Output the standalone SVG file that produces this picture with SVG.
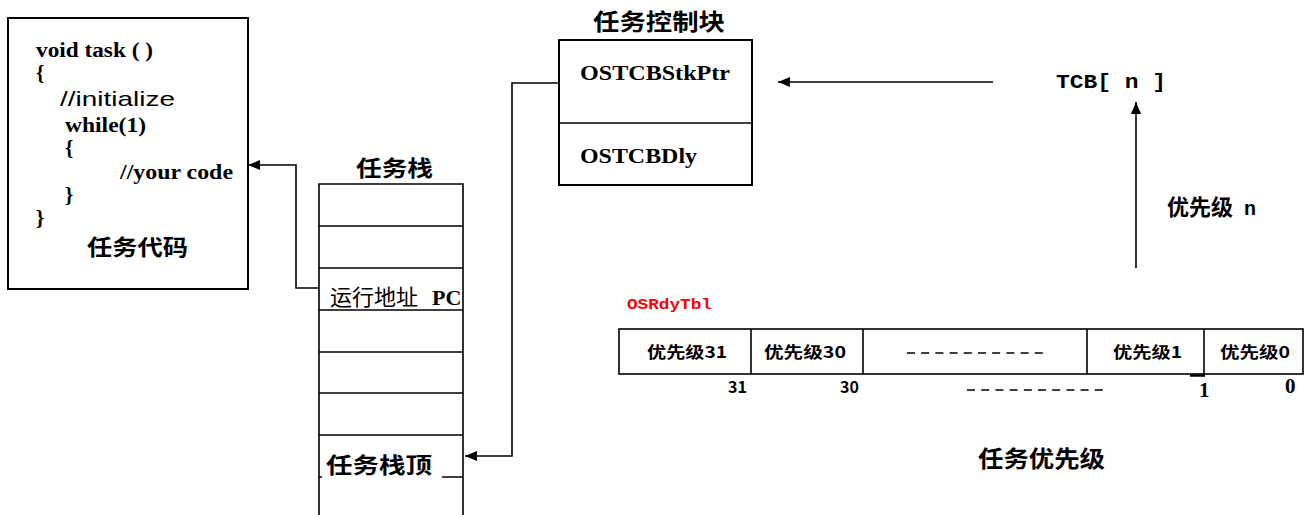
<svg xmlns="http://www.w3.org/2000/svg" width="1311" height="515" viewBox="0 0 1311 515">
<style>
.box{fill:#fff;stroke:#000;stroke-width:2}
.ln{fill:none;stroke:#000;stroke-width:1.6}
.wire{fill:none;stroke:#000;stroke-width:1.6}
.code{font-family:"Liberation Serif",serif;font-weight:bold;font-size:21px;fill:#000}
.sans{font-family:"Liberation Sans",sans-serif;font-size:21px;fill:#000}
.cjkb{font-family:"Noto Sans CJK SC",sans-serif;font-weight:bold;fill:#000}
.cjk{font-family:"Liberation Serif","Noto Sans CJK SC",serif;fill:#000}
.mono{font-family:"Liberation Mono",monospace;font-weight:bold;fill:#000}
.cell{font-family:"Noto Sans CJK SC",sans-serif;font-weight:bold;font-size:16px;fill:#000}
.dash{fill:none;stroke:#000;stroke-width:1.6;stroke-dasharray:8 6.2}
</style>
<defs>
<marker id="arr" viewBox="0 0 12 10" refX="12" refY="5" markerWidth="12" markerHeight="10" markerUnits="userSpaceOnUse" orient="auto">
<path d="M0,0 L12,5 L0,10 z" fill="#000"/>
</marker>
<clipPath id="stackclip"><rect x="319" y="184" width="144" height="331"/></clipPath>
</defs>

<g id="task-code">
<rect class="box" x="8" y="18" width="240" height="271"/>
<text class="code" x="36" y="57" textLength="117" lengthAdjust="spacingAndGlyphs">void task ( )</text>
<text class="code" x="36" y="80">{</text>
<text class="sans" x="60" y="106" textLength="115" lengthAdjust="spacingAndGlyphs">//initialize</text>
<text class="code" x="65" y="132" textLength="81" lengthAdjust="spacingAndGlyphs">while(1)</text>
<text class="code" x="65" y="155">{</text>
<text class="code" x="120" y="179" textLength="113" lengthAdjust="spacingAndGlyphs">//your code</text>
<text class="code" x="65" y="202">}</text>
<text class="code" x="36" y="225">}</text>
<text class="cjkb" x="87" y="255" font-size="22" textLength="101" lengthAdjust="spacingAndGlyphs">任务代码</text>
</g>

<g id="task-stack">
<text class="cjkb" x="356" y="176" font-size="22" textLength="77" lengthAdjust="spacingAndGlyphs">任务栈</text>
<path class="ln" d="M319,515 V184 H463 V515 M319,226 H463 M319,268 H463 M319,310 H463 M319,352 H463 M319,393 H463 M319,435 H463 M319,477 H322 M442,477 H463"/>
<g clip-path="url(#stackclip)">
<text class="cjk" x="330" y="305" font-size="22">运行地址 <tspan x="432" font-weight="bold">PC</tspan></text>
</g>
<text class="cjkb" x="326" y="473" font-size="22" textLength="106" lengthAdjust="spacingAndGlyphs">任务栈顶</text>
</g>

<g id="tcb">
<text class="cjkb" x="593" y="30" font-size="23" textLength="132" lengthAdjust="spacingAndGlyphs">任务控制块</text>
<rect class="box" x="559" y="40" width="193" height="145"/>
<line class="ln" x1="559" y1="123" x2="752" y2="123"/>
<text class="code" x="580" y="80" textLength="150" lengthAdjust="spacingAndGlyphs">OSTCBStkPtr</text>
<text class="code" x="580" y="163" textLength="117" lengthAdjust="spacingAndGlyphs">OSTCBDly</text>
</g>

<g id="tcb-n">
<text class="mono" x="1056" y="88" font-size="20" textLength="110" lengthAdjust="spacingAndGlyphs">TCB[ n ]</text>
</g>

<g id="priority-n">
<text class="cjkb" x="1167" y="215" font-size="22">优先级 <tspan x="1244" font-family="Liberation Mono,monospace" font-size="20">n</tspan></text>
</g>

<g id="osrdytbl">
<text class="mono" x="627" y="309" font-size="15" style="fill:#ff0000" textLength="85" lengthAdjust="spacingAndGlyphs">OSRdyTbl</text>
<rect x="619" y="329" width="684" height="45" fill="#fff" stroke="#000" stroke-width="1.6"/>
<path class="ln" d="M751,329 V374 M863,329 V374 M1087,329 V374 M1204,329 V374"/>
<line x1="1190" y1="375.5" x2="1205" y2="375.5" stroke="#000" stroke-width="2.5"/>
<text class="cell" x="647" y="358" textLength="80" lengthAdjust="spacingAndGlyphs">优先级31</text>
<text class="cell" x="764" y="358" textLength="82" lengthAdjust="spacingAndGlyphs">优先级30</text>
<line class="dash" x1="907" y1="353" x2="1047" y2="353"/>
<text class="cell" x="1113" y="358" textLength="69" lengthAdjust="spacingAndGlyphs">优先级1</text>
<text class="cell" x="1220" y="358" textLength="70" lengthAdjust="spacingAndGlyphs">优先级0</text>
<text class="cell" x="728" y="393">31</text>
<text class="cell" x="840" y="393">30</text>
<line class="dash" x1="967" y1="390" x2="1107" y2="390"/>
<text class="code" x="1199" y="397" font-size="16">1</text>
<text class="code" x="1285" y="393" font-size="16">0</text>
</g>

<g id="task-priority">
<text class="cjkb" x="978" y="467" font-size="23" textLength="127" lengthAdjust="spacingAndGlyphs">任务优先级</text>
</g>

<g id="connectors">
<path class="wire" d="M319,288 H296 V165 H248" marker-end="url(#arr)"/>
<path class="wire" d="M559,83 H512 V456 H465" marker-end="url(#arr)"/>
<path class="wire" d="M993,82 H778" marker-end="url(#arr)"/>
<path class="wire" d="M1136,268 V102" marker-end="url(#arr)"/>
</g>
</svg>
